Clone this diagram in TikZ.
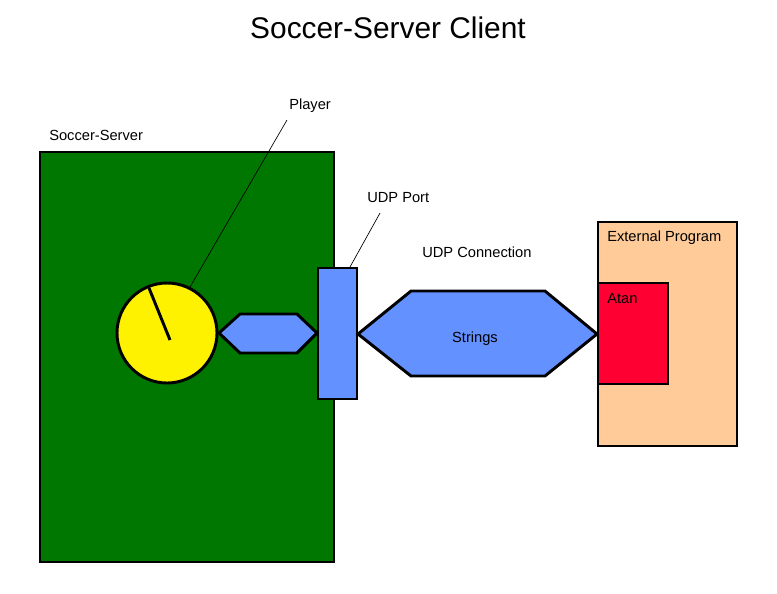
\documentclass[tikz,border=0pt]{standalone}
\usepackage{fontspec}
\setmainfont{Liberation Sans}
\definecolor{servergreen}{RGB}{0,119,0}
\definecolor{portblue}{RGB}{99,145,255}
\definecolor{atanred}{RGB}{255,0,51}
\definecolor{peach}{RGB}{255,204,153}
\begin{document}
\begin{tikzpicture}[x=0.75pt,y=-0.75pt,
  box/.style={draw=black,line width=2.2pt,inner sep=0pt,outer sep=0pt},
  lbl/.style={font=\fontsize{11}{13}\selectfont,inner sep=0pt,anchor=base west},
  leader/.style={draw=black,line width=0.5pt},
  hex/.style={draw=black,line width=2.2pt,fill=portblue,line join=miter}]
\useasboundingbox (0,0) rectangle (777,593);
% title
\node[font=\fontsize{22.4}{26}\selectfont,inner sep=0pt,anchor=base] (title) at (388,38.5) {Soccer-Server Client};
% soccer server
\node[box,fill=servergreen,minimum width=220.5pt,minimum height=307.5pt] (server) at (187,357) {};
\node[lbl] (serverlbl) at (49,140) {Soccer-Server};
% player
\node[box,circle,fill=yellow,minimum size=75pt] (player) at (167,333) {};
\coordinate (needletip) at (149,288);
\coordinate (needlebase) at (170,340);
\draw[line width=2.2pt] (needletip) -- (needlebase);
\node[lbl] (playerlbl) at (289,109) {Player};
\coordinate (playerleadtop) at (287,120);
\coordinate (playerleadbot) at (190,287);
\draw[leader] (playerleadbot) -- (playerleadtop);
% small hexagon
\coordinate (sh1) at (219,333);
\coordinate (sh2) at (240,314);
\coordinate (sh3) at (297,314);
\coordinate (sh4) at (317,333);
\coordinate (sh5) at (297,353);
\coordinate (sh6) at (240,353);
\draw[hex] (sh1) -- (sh2) -- (sh3) -- (sh4) -- (sh5) -- (sh6) -- cycle;
% UDP port
\node[box,fill=portblue,minimum width=29.25pt,minimum height=98.25pt] (port) at (337.5,333.5) {};
\node[lbl] (portlbl) at (367,202) {UDP Port};
\coordinate (portleadbot) at (350,267);
\coordinate (portleadtop) at (380,213);
\draw[leader] (portleadbot) -- (portleadtop);
% large hexagon
\coordinate (lh1) at (358,334);
\coordinate (lh2) at (411,291);
\coordinate (lh3) at (545,291);
\coordinate (lh4) at (597,334);
\coordinate (lh5) at (545,376);
\coordinate (lh6) at (411,376);
\draw[hex] (lh1) -- (lh2) -- (lh3) -- (lh4) -- (lh5) -- (lh6) -- cycle;
\node[font=\fontsize{11}{13}\selectfont,inner sep=0pt,anchor=base] (strings) at (475,342) {Strings};
\node[lbl] (connlbl) at (422,257) {UDP Connection};
% external program
\node[box,fill=peach,minimum width=104.25pt,minimum height=168pt] (ext) at (667.5,334) {};
\node[lbl] (extlbl) at (607,241) {External Program};
\node[box,fill=atanred,minimum width=52.5pt,minimum height=75.75pt] (atan) at (633,333.5) {};
\node[lbl] (atanlbl) at (607,303) {Atan};
\end{tikzpicture}
\end{document}
